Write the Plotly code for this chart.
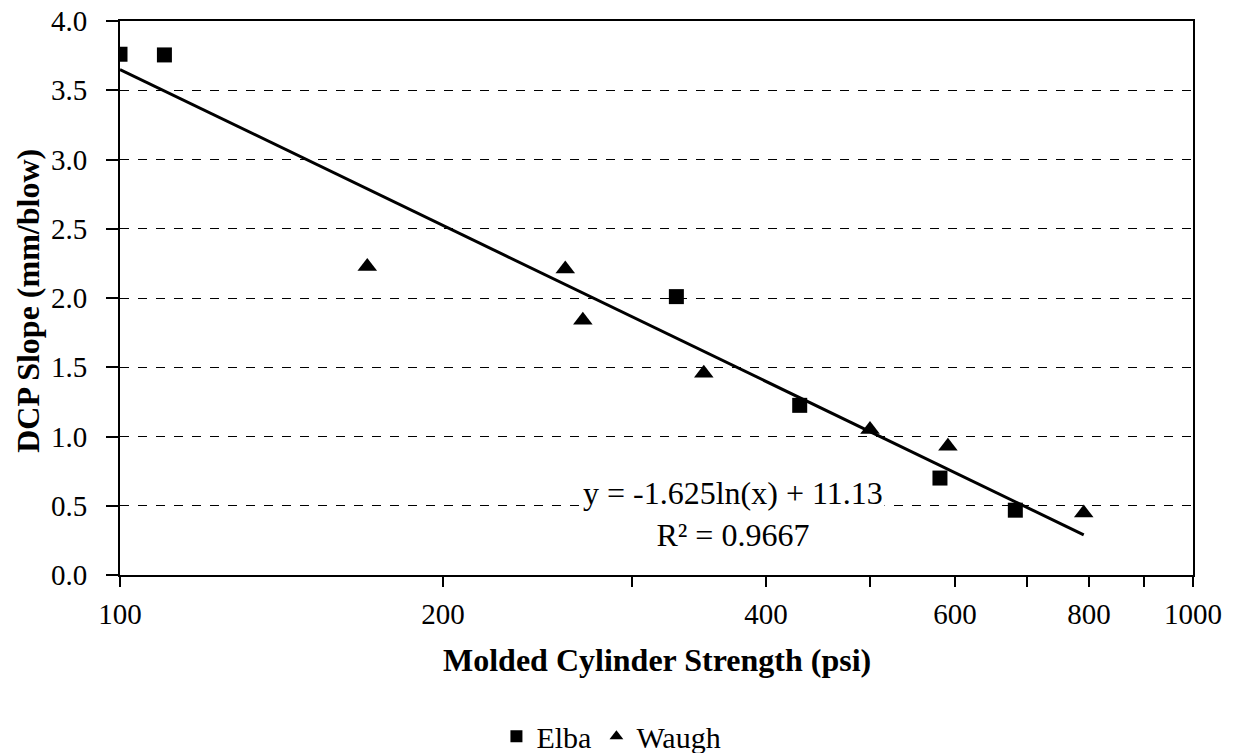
import plotly.graph_objects as go

# Data
elba_x = [100, 110, 330, 430, 581, 683]
elba_y = [3.76, 3.755, 2.01, 1.225, 0.70, 0.468]

waugh_x = [170, 260, 270, 350, 500, 591, 791]
waugh_y = [2.227, 2.21, 1.84, 1.456, 1.05, 0.93, 0.447]

trend_x = [100, 791]
trend_y = [3.65, 0.29]

x_tick_vals = [100, 200, 300, 400, 500, 600, 700, 800, 900, 1000]
x_tick_text = ["100", "200", "", "400", "", "600", "", "800", "", "1000"]

FONT = "'Times New Roman', 'Liberation Serif', Times, serif"

fig = go.Figure()

fig.add_trace(go.Scatter(
    x=trend_x, y=trend_y, mode="lines",
    line=dict(color="black", width=3),
    showlegend=False, hoverinfo="skip"))

fig.add_trace(go.Scatter(
    x=elba_x, y=elba_y, mode="markers", name="Elba",
    marker=dict(symbol="square", size=15, color="black")))

fig.add_trace(go.Scatter(
    x=waugh_x, y=waugh_y, mode="markers", name="Waugh",
    marker=dict(symbol="triangle-up", size=17, color="black")))

# trendline equation label
fig.add_annotation(
    xref="paper", yref="y", x=0.571, y=0.44,
    text="y = -1.625ln(x) + 11.13<br>R² = 0.9667",
    showarrow=False, bgcolor="white",
    font=dict(family=FONT, size=32, color="black"),
    align="center")

# axis titles
fig.add_annotation(
    xref="paper", yref="paper", x=0.5, y=-0.153,
    xanchor="center", yanchor="middle",
    text="<b>Molded Cylinder Strength (psi)</b>", showarrow=False,
    font=dict(family=FONT, size=32, color="black"))
fig.add_annotation(
    xref="paper", yref="paper", x=-0.0857, y=0.495,
    xanchor="center", yanchor="middle", textangle=-90,
    text="<b>DCP Slope (mm/blow)</b>", showarrow=False,
    font=dict(family=FONT, size=32, color="black"))

fig.update_layout(
    width=1237, height=753,
    margin=dict(l=120, r=44, t=21, b=178, autoexpand=False),
    paper_bgcolor="white", plot_bgcolor="white",
    font=dict(family=FONT, size=29, color="black"),
    legend=dict(orientation="h", x=0.458, xanchor="center",
                y=-0.291, yanchor="middle",
                font=dict(family=FONT, size=30, color="black"),
                itemsizing="constant", itemwidth=30, traceorder="normal"),
    xaxis=dict(
        type="log", range=[2, 3],
        tickmode="array", tickvals=x_tick_vals, ticktext=x_tick_text,
        ticks="outside", ticklen=10, tickwidth=2, tickcolor="black",
        ticklabelstandoff=2,
        showline=True, linecolor="black", linewidth=2, mirror=True,
        showgrid=False, zeroline=False,
    ),
    yaxis=dict(
        range=[0, 4], dtick=0.5, tick0=0, tickformat=".1f",
        ticks="outside", ticklen=12, tickwidth=1.5, tickcolor="black",
        ticklabelstandoff=13,
        showline=True, linecolor="black", linewidth=2, mirror=True,
        showgrid=True, gridcolor="black", gridwidth=1, griddash="dash",
        zeroline=False,
    ),
)

fig.write_html("out.html",
               config={"displayModeBar": False},
               post_script="document.body.style.margin='0';document.body.style.overflow='hidden';")
